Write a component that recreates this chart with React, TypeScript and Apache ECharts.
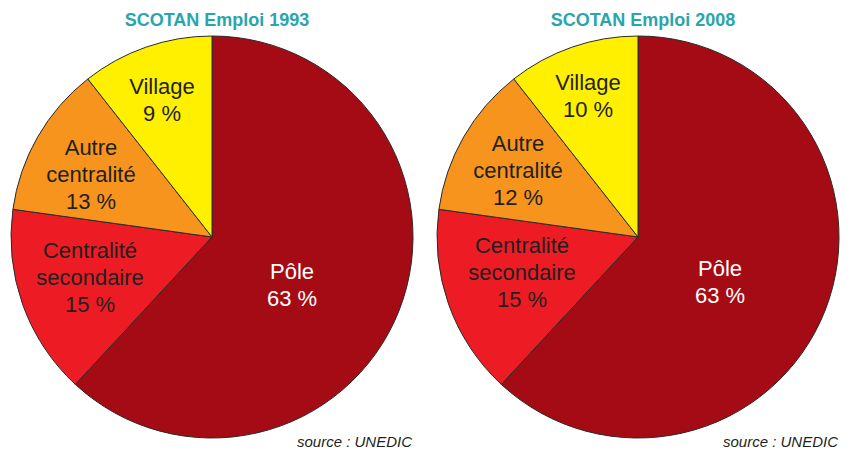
import React, { useEffect, useRef } from "react";
import * as echarts from "echarts";

const titles = ["SCOTAN Emploi 1993", "SCOTAN Emploi 2008"];
const categories = ["Pôle", "Centralité\nsecondaire", "Autre\ncentralité", "Village"];
// printed percentages
const labels1993 = [63, 15, 13, 9];
const labels2008 = [63, 15, 12, 10];
// slice shares as drawn in the picture (both pies are drawn alike)
const shares1993 = [61.9, 15.3, 12.2, 10.6];
const shares2008 = [61.9, 15.3, 12.2, 10.6];
const sourceText = "source : UNEDIC";

const colors = ["#A50B14", "#ED1C24", "#F7941D", "#FFF000"];
const labelColors = ["#FFFFFF", "#231F20", "#231F20", "#231F20"];
const centers = [[212, 237], [638, 237]];
const radius = 201;
const labelPos = [
  [[292, 285], [90, 277], [91, 174], [162, 100]],
  [[720, 282], [522, 272], [518, 170], [588, 96]],
];

export default function App() {
  const ref = useRef<HTMLDivElement>(null);
  useEffect(() => {
    const chart = echarts.init(ref.current!, null, { renderer: "svg" });
    const shares = [shares1993, shares2008];
    const printed = [labels1993, labels2008];
    chart.setOption({
      animation: false,
      backgroundColor: "#FFFFFF",
      title: titles.map((t, i) => ({
        text: t,
        left: centers[i][0],
        top: 6,
        textAlign: "center",
        textStyle: {
          color: "#29A5AD",
          fontFamily: "Liberation Sans",
          fontWeight: "bold",
          fontSize: 18,
        },
      })),
      graphic: centers.map((c) => ({
        type: "text",
        x: c[0] + 200,
        y: 441,
        style: {
          text: sourceText,
          fill: "#231F20",
          font: "italic 15px 'Liberation Sans'",
          textAlign: "right",
          textVerticalAlign: "middle",
        },
      })),
      series: shares.map((vals, si) => ({
        type: "pie",
        center: centers[si],
        radius: radius,
        startAngle: 90,
        clockwise: true,
        avoidLabelOverlap: false,
        itemStyle: { borderColor: "#2A2A2A", borderWidth: 1 },
        emphasis: { disabled: true },
        labelLine: { show: false },
        data: vals.map((v, i) => ({
          name: categories[i],
          value: v,
          itemStyle: { color: colors[i] },
          label: {
            show: true,
            position: "inside",
            formatter: `{b}\n${printed[si][i]} %`,
            color: labelColors[i],
            fontFamily: "Liberation Sans",
            fontSize: 22,
            lineHeight: 27,
            align: "center",
          },
        })),
        labelLayout: (params: any) => {
          const p = labelPos[si][params.dataIndex];
          return { x: p[0], y: p[1], align: "center", verticalAlign: "middle" };
        },
      })),
    });
    return () => chart.dispose();
  }, []);
  return (
    <div
      ref={ref}
      style={{ position: "fixed", left: 0, top: 0, width: 856, height: 452 }}
    />
  );
}
